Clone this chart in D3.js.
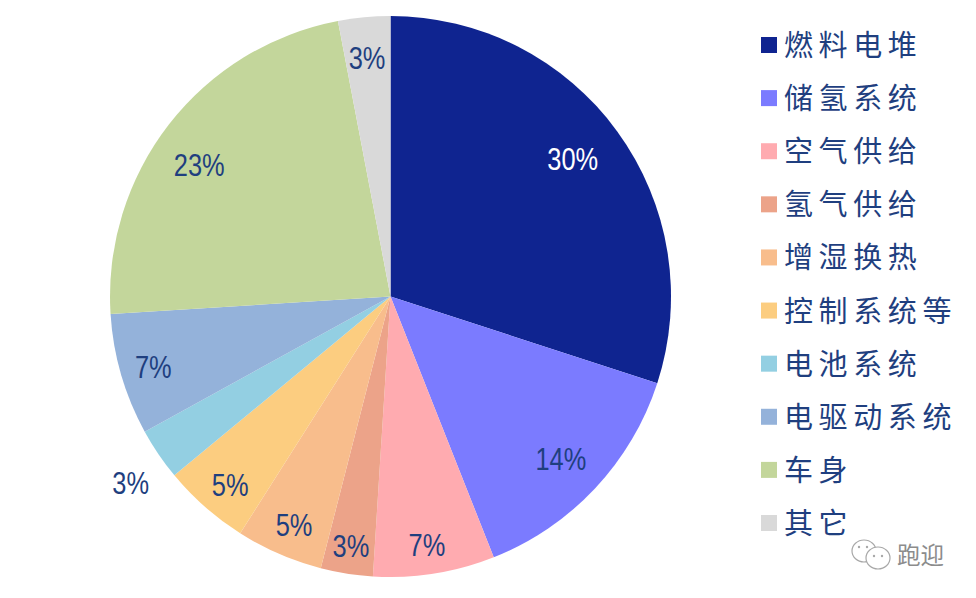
<!DOCTYPE html>
<html>
<head>
<meta charset="utf-8">
<script src="https://cdn.jsdelivr.net/npm/d3@7"></script>
<style>
  html, body { margin: 0; padding: 0; background: #fff; }
</style>
</head>
<body>
<div id="chartContainer"></div>
<script>
// labelR is the label distance from centre, shift nudges it by hand to where the original has it
const data = [
  { name: "燃料电堆", value: 30, color: "#0f2490", labelR: 229, shift: [-3, -3], labelColor: "#ffffff" },
  { name: "储氢系统", value: 14, color: "#7b7bff", labelR: 235, shift: [-1, 2] },
  { name: "空气供给", value: 7, color: "#ffabb0", labelR: 252, shift: [-3, 0] },
  { name: "氢气供给", value: 3, color: "#eca389", labelR: 253, shift: [0, 0] },
  { name: "增湿换热", value: 5, color: "#f8bd8c", labelR: 248, shift: [2, 1] },
  { name: "控制系统等", value: 5, color: "#fccd80", labelR: 247, shift: [3, 3] },
  { name: "电池系统", value: 3, color: "#93cfe2", labelR: 319, shift: [4, 7] },
  { name: "电驱动系统", value: 7, color: "#94b2da", labelR: 246, shift: [-1, 2] },
  { name: "车身", value: 23, color: "#c3d69b", labelR: 232, shift: [-8, 11] },
  { name: "其它", value: 3, color: "#d9d9d9", labelR: 239, shift: [-1, 0] }
];

const width = 976;
const height = 598;
const cx = 390.5;
const cy = 296.5;
const radius = 280.5;
const textColor = "#1f3f7f";

const svg = d3.create("svg")
  .attr("width", width)
  .attr("height", height)
  .attr("viewBox", [0, 0, width, height])
  .style("display", "block");

document.getElementById("chartContainer").appendChild(svg.node());

const pie = d3.pie().value(d => d.value).sort(null);
const arc = d3.arc().innerRadius(0).outerRadius(radius);
const arcs = pie(data);

const g = svg.append("g").attr("transform", `translate(${cx},${cy})`);

g.selectAll("path")
  .data(arcs)
  .join("path")
  .attr("d", arc)
  .attr("fill", d => d.data.color);

// percent labels are tall and narrow in the original, so squeeze them in x
g.selectAll("text")
  .data(arcs)
  .join("text")
  .attr("transform", d => {
    const [x, y] = d3.arc().innerRadius(d.data.labelR).outerRadius(d.data.labelR).centroid(d);
    return `translate(${x + d.data.shift[0]},${y + d.data.shift[1]}) scale(0.82,1)`;
  })
  .attr("text-anchor", "middle")
  .attr("dy", "0.35em")
  .attr("fill", d => d.data.labelColor || textColor)
  .style("font", "31px 'Liberation Sans'")
  .text(d => d.data.value + "%");

const y = d3.scalePoint()
  .domain(data.map(d => d.name))
  .range([45, 523]);

const legend = svg.append("g")
  .selectAll("g")
  .data(data)
  .join("g")
  .attr("transform", d => `translate(761,${y(d.name)})`);

legend.append("rect")
  .attr("y", -8)
  .attr("width", 16)
  .attr("height", 16)
  .attr("fill", d => d.color);

legend.append("text")
  .attr("x", 23)
  .attr("y", 0.5)
  .attr("dy", "0.36em")
  .attr("fill", textColor)
  .style("font", "29px 'Noto Sans CJK SC'")
  .style("letter-spacing", "5.6px")
  .text(d => d.name);

// watermark
const mark = svg.append("g")
  .attr("fill", "#fff")
  .attr("stroke", "#a8a8a8")
  .attr("stroke-width", 1.2);
mark.append("ellipse").attr("cx", 864).attr("cy", 551).attr("rx", 12).attr("ry", 11);
mark.append("ellipse").attr("cx", 878).attr("cy", 558).attr("rx", 12).attr("ry", 11);
mark.append("g")
  .attr("fill", "#a8a8a8")
  .attr("stroke", "none")
  .selectAll("circle")
  .data([[859, 547], [867, 547], [874, 556], [882, 556]])
  .join("circle")
  .attr("cx", d => d[0])
  .attr("cy", d => d[1])
  .attr("r", 1.2);

svg.append("text")
  .attr("x", 897)
  .attr("y", 564)
  .attr("fill", "#8c8c8c")
  .style("font", "23.5px 'Noto Sans CJK SC'")
  .text("跑迎");
</script>
</body>
</html>
